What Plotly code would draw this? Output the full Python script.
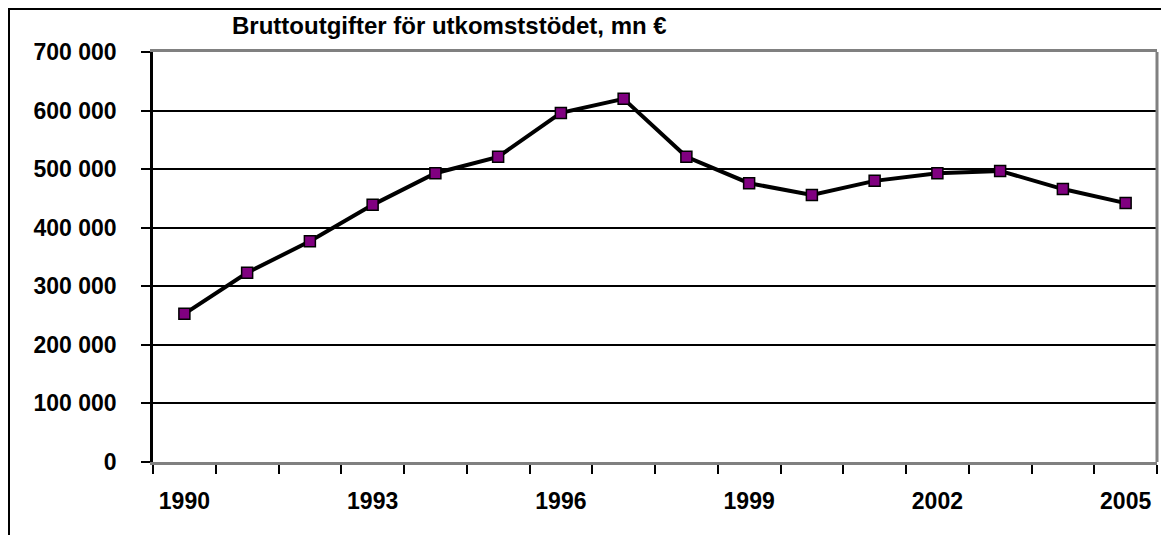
import plotly.graph_objects as go

# Data
years = list(range(1990, 2006))
expenditure = [253000, 323000, 377000, 439000, 493000, 521000, 596000, 620000,
               521000, 476000, 456000, 480000, 493000, 497000, 466000, 442000]
label_years = [1990, 1993, 1996, 1999, 2002, 2005]
y_ticks = [0, 100000, 200000, 300000, 400000, 500000, 600000, 700000]

title_text = "Bruttoutgifter för utkomststödet, mn €"
font_family = "Liberation Sans, Arial, sans-serif"

# the page body has an 8px margin, so the figure is a bit smaller than the window
W, H = 1161, 527
L, R, T, B = 145, 12, 44, 73
pw, ph = W - L - R, H - T - B

fig = go.Figure()
fig.add_trace(go.Scatter(
    x=years, y=expenditure, mode="lines+markers",
    line=dict(color="black", width=4),
    marker=dict(symbol="square", size=11, color="#800080",
                line=dict(color="black", width=1.5)),
    hoverinfo="x+y", showlegend=False,
))

fig.update_layout(
    width=W, height=H,
    margin=dict(l=L, r=R, t=T, b=B),
    paper_bgcolor="white", plot_bgcolor="white",
    font=dict(family=font_family, size=20, color="black"),
    xaxis=dict(
        range=[1989.5, 2005.5],
        tickvals=label_years, ticktext=[str(y) for y in label_years],
        ticks="", ticklabelstandoff=16,
        tickfont=dict(size=23, family=font_family, weight="bold"),
        showgrid=False, zeroline=False,
        showline=True, linecolor="#808080", linewidth=3, mirror=True,
        minor=dict(tickvals=[y - 0.5 for y in years + [2006]],
                   ticks="outside", ticklen=9, tickcolor="black", tickwidth=1.5,
                   showgrid=False),
        fixedrange=True,
    ),
    yaxis=dict(
        range=[0, 700000],
        tickvals=y_ticks,
        ticktext=[f"{v:,}".replace(",", " ") for v in y_ticks],
        ticks="outside", ticklen=9, tickcolor="black", tickwidth=1.5,
        ticklabelstandoff=20,
        tickfont=dict(size=23, family=font_family, weight="bold"),
        showgrid=True, gridcolor="black", gridwidth=1.5,
        zeroline=False,
        showline=True, linecolor="black", linewidth=2.5,
        fixedrange=True,
    ),
    annotations=[dict(
        text="<b>" + title_text + "</b>", xref="paper", yref="paper",
        x=(222 - L) / pw, y=(H - B - 18) / ph,
        xanchor="left", yanchor="middle", showarrow=False,
        font=dict(size=24, family=font_family),
    )],
    shapes=[
        # right border of plot area
        dict(type="line", xref="paper", yref="paper", x0=1, x1=1, y0=0, y1=1,
             line=dict(color="#808080", width=3), layer="above"),
        # outer chart frame
        dict(type="rect", xref="paper", yref="paper",
             x0=(1 - L) / pw, x1=1.1, y0=-0.4, y1=(H - B - 1) / ph,
             line=dict(color="black", width=2), layer="above"),
    ],
)

fig.write_html("out.html")
